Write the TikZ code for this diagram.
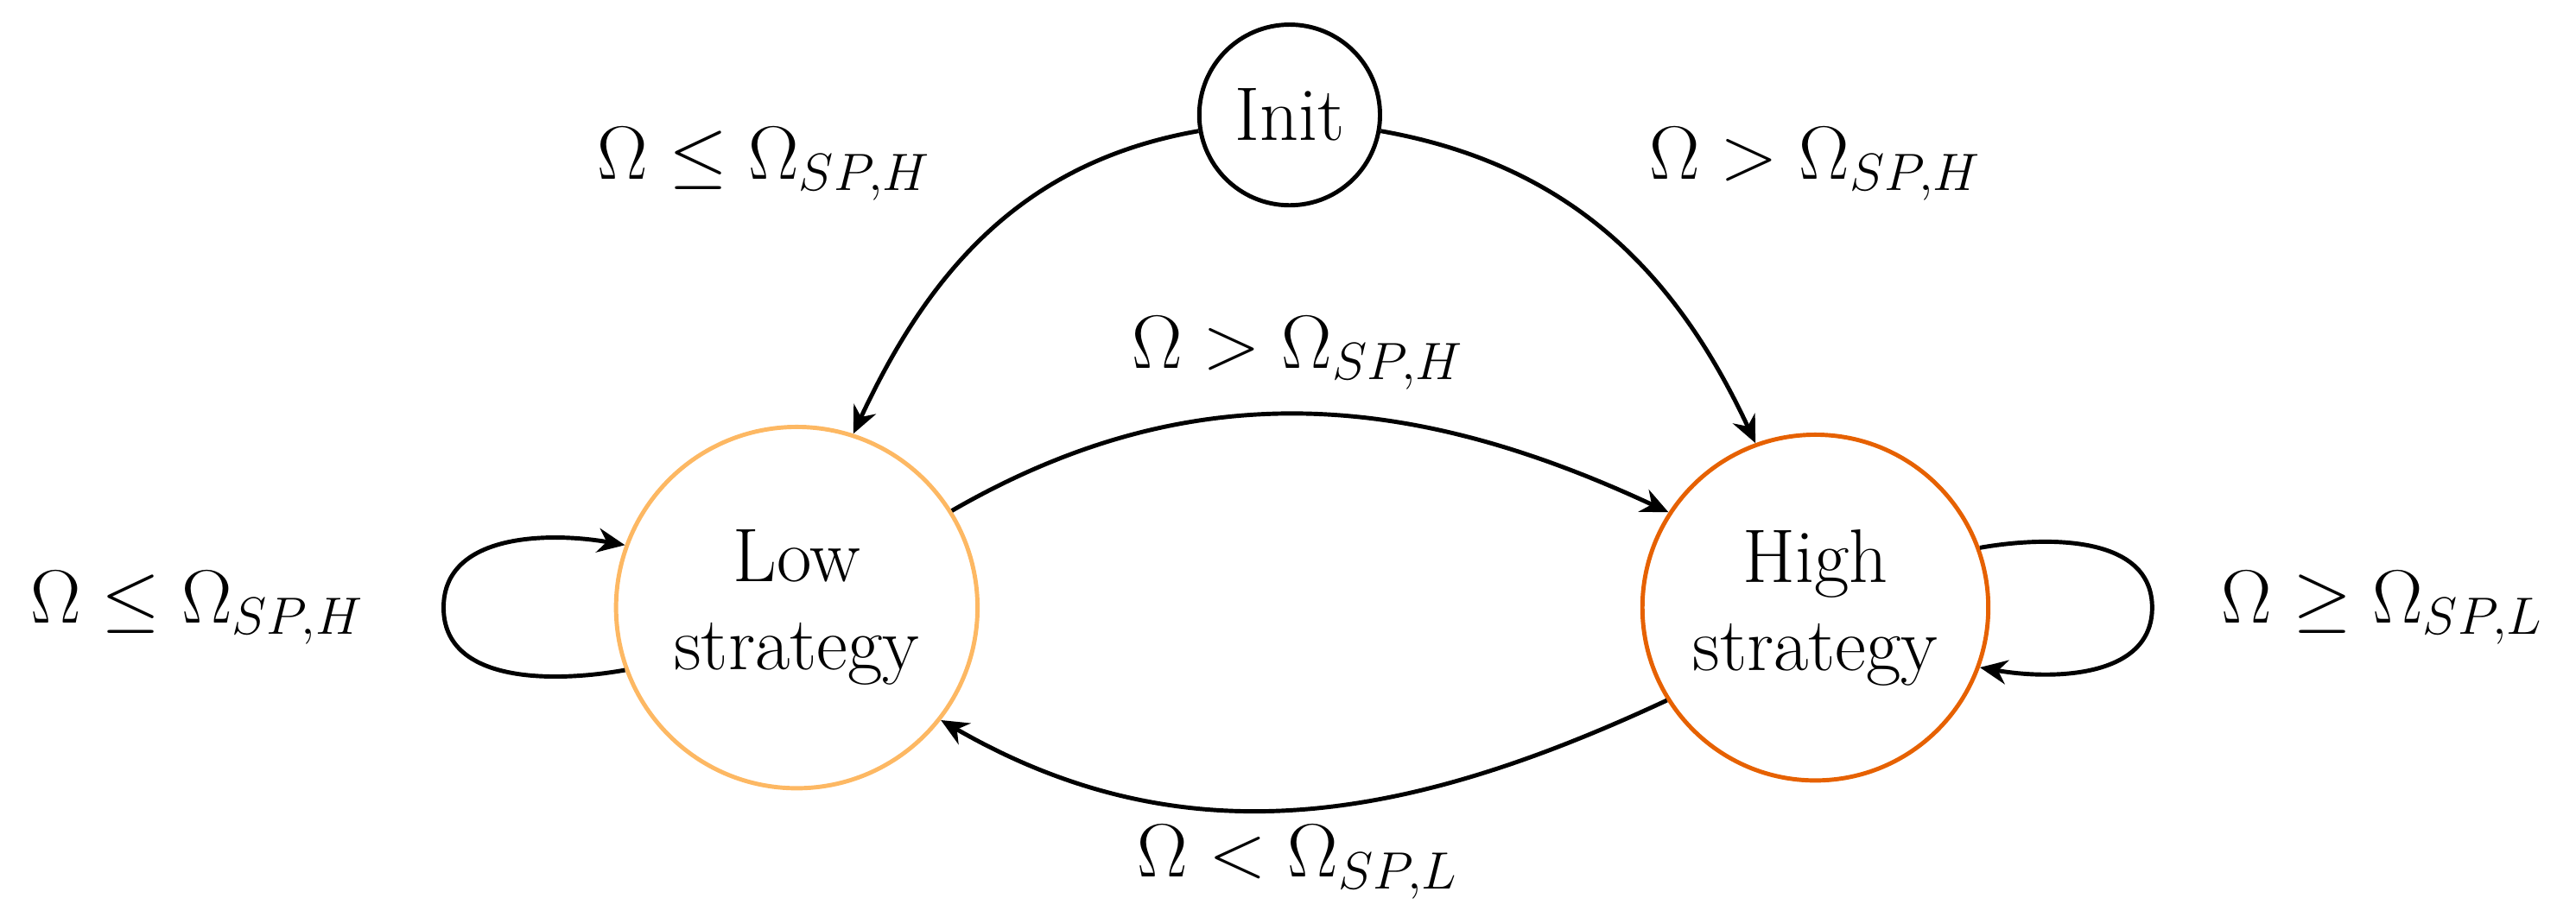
\documentclass[tikz,border=0pt]{standalone}
\usetikzlibrary{arrows.meta}
\definecolor{lowc}{RGB}{253,184,99}
\definecolor{highc}{RGB}{230,97,1}
\begin{document}
\begin{tikzpicture}[x=0.019cm,y=-0.019cm,
  every node/.style={font=\fontsize{25}{29}\selectfont},
  st/.style={circle,draw,line width=1.4pt,align=center,inner sep=0pt},
  tr/.style={-{Stealth[length=9pt,width=8pt]},line width=1.4pt}]
\useasboundingbox (0,0) rectangle (1568,558);
\node[st,minimum size=2.09cm] (init) at (785,70) {Init};
\node[st,draw=lowc,minimum size=4.18cm] (low) at (485,370) {Low\\strategy};
\node[st,draw=highc,minimum size=4.0cm] (high) at (1105,370) {High\\strategy};
\draw[tr] (init.190) to[out=190,in=65] (low.72);
\draw[tr] (init.-10) to[out=-10,in=115] (high.110);
\draw[tr] (low.32) to[out=30,in=155] (high.147);
\draw[tr] (high.212) to[out=205,in=-30] (low.-38);
\draw[tr] (low.200) to[out=190,in=270] (270,370) to[out=90,in=170] (low.160);
\draw[tr] (high.20) to[out=10,in=90] (1310,370) to[out=270,in=-10] (high.-20);
\node (l1) at (465,100) {$\Omega \le \Omega_{SP,H}$};
\node (l2) at (1105,100) {$\Omega > \Omega_{SP,H}$};
\node (l3) at (790,215) {$\Omega > \Omega_{SP,H}$};
\node (l4) at (790,525) {$\Omega < \Omega_{SP,L}$};
\node (l5) at (120,370) {$\Omega \le \Omega_{SP,H}$};
\node (l6) at (1450,370) {$\Omega \ge \Omega_{SP,L}$};
\end{tikzpicture}
\end{document}
